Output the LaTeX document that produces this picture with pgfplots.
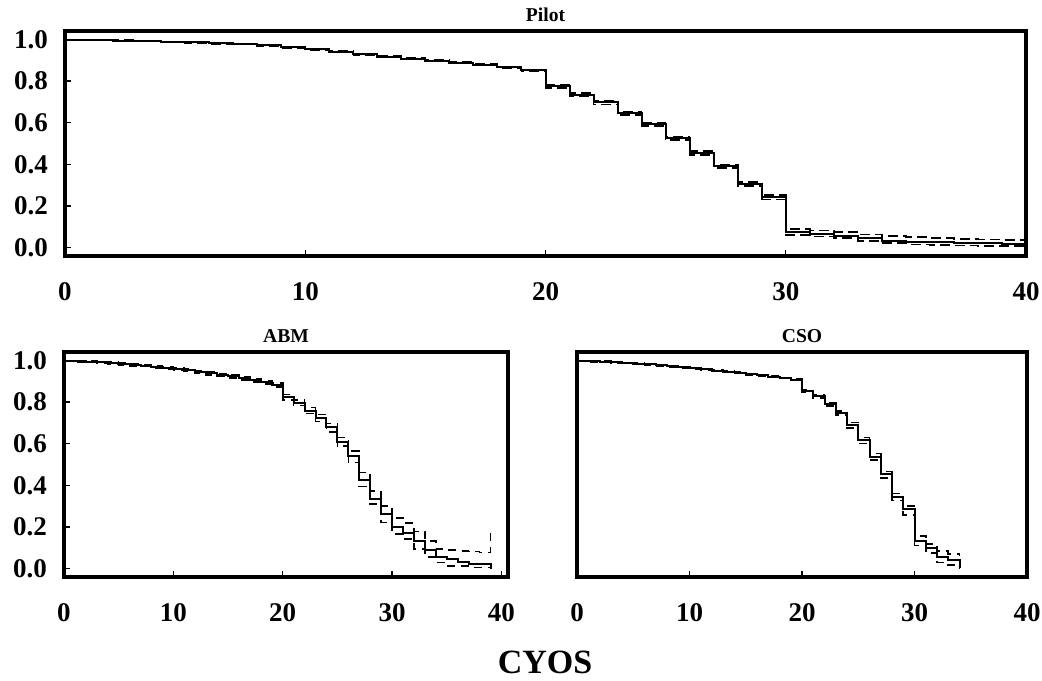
\documentclass[border=0pt]{standalone}
\usepackage{fontspec}
\setmainfont{Liberation Serif}
\usepackage{pgfplots}
\pgfplotsset{compat=1.18}

\pgfplotsset{
 km/.style={
  scale only axis,
  xmin=0, ymin=-0.04, ymax=1.04,
  axis line style={line width=2bp},
  tick style={line width=0.6bp, black},
  major tick length=3bp,
  xtick pos=bottom, ytick pos=left,
  tick align=inside,
  /pgf/number format/assume math mode=true,
  ticklabel style={font=\fontsize{13.5bp}{15bp}\selectfont\bfseries},
  xticklabel style={yshift=-10bp},
  yticklabel style={xshift=-5bp},
  y tick label style={/pgf/number format/.cd, fixed, fixed zerofill, precision=1},
  ytick={0,0.2,0.4,0.6,0.8,1},
  xtick={0,10,20,30,40},
  title style={font=\fontsize{9.8bp}{11bp}\selectfont\bfseries, yshift=-5bp},
 },
 est/.style={const plot, black, mark=none, line width=1bp},
 ci/.style={const plot, black, mark=none, line width=0.8bp, dash pattern=on 4bp off 3bp},
}

\begin{document}
\begin{tikzpicture}
\useasboundingbox (0,0) rectangle (521bp,340.5bp);

% ---------------- Pilot ----------------
\begin{axis}[km, at={(32.5bp,212.5bp)}, anchor=south west,
  width=480.5bp, height=112.5bp, xmax=40, title={Pilot}]
\addplot[est] coordinates {
(0,0.998)(1,0.996)(2,0.994)(3,0.991)(4,0.988)(5,0.985)(6,0.981)(7,0.977)(8,0.971)(9,0.962)
(10,0.952)(11,0.940)(12,0.928)(13,0.917)(14,0.907)(15,0.897)(16,0.888)(17,0.879)(18,0.866)(19,0.852)
(20,0.775)(21,0.735)(22,0.697)(23,0.645)(24,0.592)(25,0.525)(26,0.455)(27,0.390)(28,0.306)(29,0.242)
(30,0.073)(31,0.066)(32,0.058)(33,0.044)(34,0.034)(35,0.028)(36,0.025)(37,0.022)(38,0.020)(39,0.018)(40,0.018)};
\addplot[ci, dash pattern=on 5bp off 2.5bp] coordinates {
(0,1.000)(1,0.998)(2,0.996)(3,0.993)(4,0.990)(5,0.987)(6,0.983)(7,0.979)(8,0.973)(9,0.965)
(10,0.955)(11,0.943)(12,0.931)(13,0.920)(14,0.910)(15,0.900)(16,0.891)(17,0.882)(18,0.869)(19,0.856)
(20,0.783)(21,0.743)(22,0.706)(23,0.654)(24,0.601)(25,0.534)(26,0.464)(27,0.399)(28,0.316)(29,0.252)
(30,0.089)(31,0.082)(32,0.076)(33,0.064)(34,0.055)(35,0.050)(36,0.046)(37,0.042)(38,0.040)(39,0.038)(40,0.038)};
\addplot[ci, dash pattern=on 5bp off 2.5bp] coordinates {
(0,0.996)(1,0.994)(2,0.992)(3,0.989)(4,0.986)(5,0.983)(6,0.979)(7,0.975)(8,0.969)(9,0.959)
(10,0.949)(11,0.937)(12,0.925)(13,0.914)(14,0.904)(15,0.894)(16,0.885)(17,0.876)(18,0.863)(19,0.848)
(20,0.767)(21,0.727)(22,0.688)(23,0.636)(24,0.583)(25,0.516)(26,0.446)(27,0.381)(28,0.296)(29,0.232)
(30,0.062)(31,0.054)(32,0.046)(33,0.032)(34,0.022)(35,0.016)(36,0.013)(37,0.010)(38,0.008)(39,0.007)(40,0.007)};
\end{axis}

% ---------------- ABM ----------------
\begin{axis}[km, at={(32bp,52bp)}, anchor=south west,
  width=222bp, height=112.5bp, xmax=40.6, title={ABM}]
\addplot[est] coordinates {
(0,0.998)(1,0.996)(2,0.993)(3,0.990)(4,0.987)(5,0.983)(6,0.979)(7,0.975)(8,0.970)(9,0.965)
(10,0.958)(11,0.952)(12,0.945)(13,0.938)(14,0.930)(15,0.923)(16,0.914)(17,0.905)(18,0.895)(19,0.882)
(20,0.823)(21,0.796)(22,0.759)(23,0.724)(24,0.682)(25,0.610)(26,0.541)(27,0.427)(28,0.333)(29,0.262)
(30,0.198)(31,0.169)(32,0.134)(33,0.089)(34,0.054)(35,0.046)(36,0.033)(37,0.022)(38,0.022)(39,0.000)};
\addplot[ci] coordinates {
(0,1.000)(1,0.999)(2,0.997)(3,0.994)(4,0.991)(5,0.988)(6,0.984)(7,0.980)(8,0.976)(9,0.971)
(10,0.964)(11,0.958)(12,0.952)(13,0.945)(14,0.937)(15,0.930)(16,0.922)(17,0.913)(18,0.904)(19,0.892)
(20,0.836)(21,0.809)(22,0.774)(23,0.740)(24,0.697)(25,0.630)(26,0.565)(27,0.461)(28,0.373)(29,0.301)
(30,0.243)(31,0.219)(32,0.178)(33,0.134)(34,0.095)(35,0.090)(36,0.086)(37,0.082)(38,0.078)(39,0.190)};
\addplot[ci] coordinates {
(0,0.996)(1,0.993)(2,0.989)(3,0.986)(4,0.983)(5,0.978)(6,0.974)(7,0.970)(8,0.964)(9,0.959)
(10,0.952)(11,0.946)(12,0.938)(13,0.931)(14,0.923)(15,0.916)(16,0.906)(17,0.897)(18,0.886)(19,0.872)
(20,0.810)(21,0.783)(22,0.744)(23,0.707)(24,0.657)(25,0.590)(26,0.509)(27,0.395)(28,0.310)(29,0.222)
(30,0.166)(31,0.142)(32,0.094)(33,0.057)(34,0.030)(35,0.014)(36,0.014)(37,0.006)(38,0.006)(39,0.006)};
\end{axis}

% ---------------- CSO ----------------
\begin{axis}[km, at={(288.5bp,52bp)}, anchor=south west,
  width=225bp, height=112.5bp, xmax=40, title={CSO}, ytick=\empty]
\addplot[est] coordinates {
(0,0.998)(1,0.996)(2,0.993)(3,0.990)(4,0.987)(5,0.984)(6,0.980)(7,0.976)(8,0.972)(9,0.967)
(10,0.962)(11,0.957)(12,0.951)(13,0.946)(14,0.940)(15,0.934)(16,0.928)(17,0.922)(18,0.915)(19,0.907)
(20,0.852)(21,0.828)(22,0.790)(23,0.748)(24,0.690)(25,0.616)(26,0.538)(27,0.452)(28,0.343)(29,0.285)
(30,0.134)(31,0.100)(32,0.058)(33,0.040)(34,0.003)};
\addplot[ci] coordinates {
(0,1.000)(1,0.999)(2,0.996)(3,0.993)(4,0.990)(5,0.987)(6,0.983)(7,0.979)(8,0.975)(9,0.970)
(10,0.965)(11,0.960)(12,0.954)(13,0.949)(14,0.943)(15,0.937)(16,0.931)(17,0.925)(18,0.918)(19,0.910)
(20,0.858)(21,0.835)(22,0.798)(23,0.757)(24,0.702)(25,0.630)(26,0.552)(27,0.466)(28,0.360)(29,0.300)
(30,0.158)(31,0.118)(32,0.085)(33,0.070)(34,0.060)};
\addplot[ci] coordinates {
(0,0.996)(1,0.993)(2,0.990)(3,0.987)(4,0.984)(5,0.981)(6,0.977)(7,0.973)(8,0.969)(9,0.964)
(10,0.959)(11,0.954)(12,0.948)(13,0.943)(14,0.937)(15,0.931)(16,0.925)(17,0.919)(18,0.912)(19,0.904)
(20,0.846)(21,0.820)(22,0.782)(23,0.738)(24,0.676)(25,0.600)(26,0.522)(27,0.436)(28,0.328)(29,0.258)
(30,0.112)(31,0.075)(32,0.030)(33,0.019)(34,0.000)};
\end{axis}

\node[font=\fontsize{17bp}{20bp}\selectfont\bfseries] at (272.5bp,9.5bp) {CYOS};
\end{tikzpicture}
\end{document}
